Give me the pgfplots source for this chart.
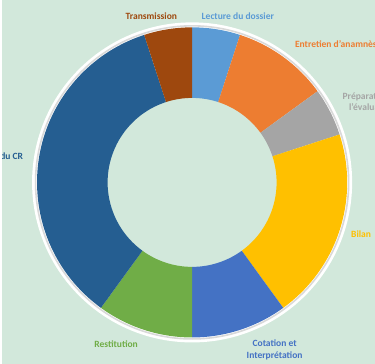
\documentclass[border=0pt]{standalone}
\usepackage{pgfplots}
\pgfplotsset{compat=1.18}
\usepackage{pgfplotstable}
\usepackage{fontspec}
\setmainfont{Carlito}
\definecolor{bg}{RGB}{210,232,219}
\definecolor{c0}{HTML}{5B9BD5}
\definecolor{c1}{HTML}{ED7D31}
\definecolor{c2}{HTML}{A5A5A5}
\definecolor{c3}{HTML}{FFC000}
\definecolor{c4}{HTML}{4472C4}
\definecolor{c5}{HTML}{70AD47}
\definecolor{c6}{HTML}{255E91}
\definecolor{c7}{HTML}{9E480E}
\pgfplotstableread{
idx value
0 5
1 10
2 5
3 20
4 10
5 10
6 35
7 5
}\datatable
\begin{document}
\pgfmathsetmacro\cum{0}
\pgfplotsforeachungrouped \i in {0,...,7}{%
  \pgfplotstablegetelem{\i}{value}\of\datatable
  \pgfmathsetmacro\wa{90-3.6*\cum}%
  \pgfmathsetmacro\cum{\cum+\pgfplotsretval}%
  \pgfmathsetmacro\wb{90-3.6*\cum}%
  \expandafter\xdef\csname wa\i\endcsname{\wa}%
  \expandafter\xdef\csname wb\i\endcsname{\wb}%
}%
\begin{tikzpicture}[font=\bfseries\fontsize{9.6}{11.6}\selectfont]
\begin{axis}[
  x=1pt, y=1pt,
  xmin=0, xmax=375, ymin=0, ymax=366,
  hide axis,
  axis background/.style={fill=bg},
  clip=true,
]
\fill[white, even odd rule] (axis cs:191,182.5) circle[radius=161pt] (axis cs:191,182.5) circle[radius=100pt];
\draw[gray!30, line width=1.6pt] (axis cs:191,182.5) circle[radius=157.5pt];
\pgfplotsinvokeforeach{0,...,7}{
  \fill[c#1] ([shift={(\csname wa#1\endcsname:156pt)}]axis cs:191,182.5)
    arc[start angle=\csname wa#1\endcsname, end angle=\csname wb#1\endcsname, radius=156pt]
    -- ([shift={(\csname wb#1\endcsname:85pt)}]axis cs:191,182.5)
    arc[start angle=\csname wb#1\endcsname, end angle=\csname wa#1\endcsname, radius=85pt]
    -- cycle;
}
\node[text=c7] at (axis cs:150,350) {Transmission};
\node[text=c0] at (axis cs:237,350) {Lecture du dossier};
\node[text=c1, anchor=west] at (axis cs:291,322) {Entretien d'anamnèse};
\node[text=c2, align=center] at (axis cs:372,263.5) {Préparation de\\l'évaluation};
\node[text=c3] at (axis cs:361,130) {Bilan};
\node[text=c4, align=center] at (axis cs:274,14) {Cotation et\\Interprétation};
\node[text=c5] at (axis cs:114.5,20) {Restitution};
\node[text=c6, anchor=east] at (axis cs:24.5,209) {Rédaction du CR};
\end{axis}
\pgfresetboundingbox
\useasboundingbox (current axis.south west) rectangle (current axis.north east);
\end{tikzpicture}
\end{document}
